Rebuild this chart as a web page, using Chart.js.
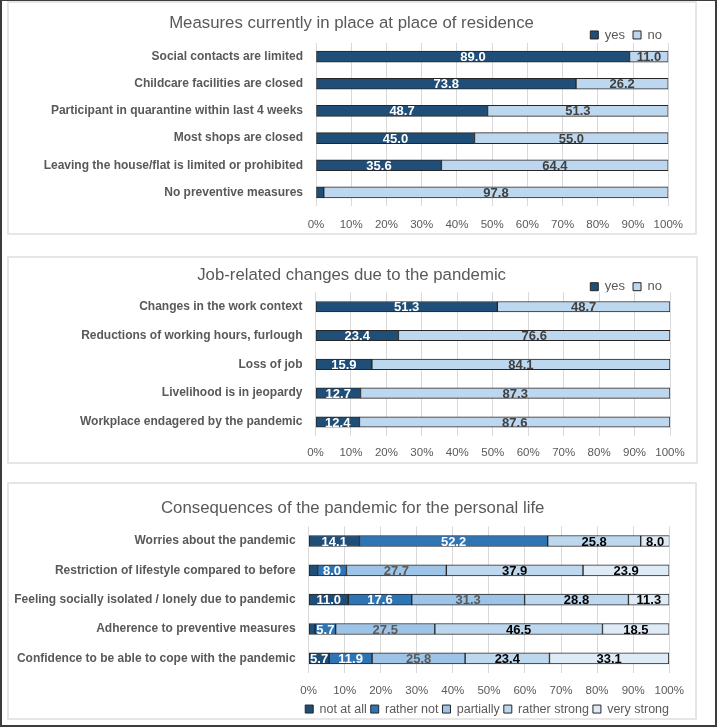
<!DOCTYPE html>
<html>
<head>
<meta charset="utf-8">
<script src="https://cdn.jsdelivr.net/npm/chart.js@4.4.1/dist/chart.umd.min.js"></script>
<style>
  html, body { margin: 0; padding: 0; background: #ffffff; }
  #frame { position: absolute; left: 0; top: 0; width: 717px; height: 727px; box-sizing: border-box;
           border: 2px solid #3c3c3c; border-top-width: 1px; }
  .panel { position: absolute; box-sizing: border-box; border: 2px solid #e6e6e6; background: #fff; }
  .panel canvas { position: absolute; left: 0; top: 0; }
</style>
</head>
<body>
<div id="frame"></div>
<div class="panel" style="left:7px; top:1px; width:690px; height:234px;"><canvas id="c1" width="686" height="230"></canvas></div>
<div class="panel" style="left:7px; top:256px; width:691px; height:208px;"><canvas id="c2" width="687" height="204"></canvas></div>
<div class="panel" style="left:7px; top:482px; width:690px; height:238px;"><canvas id="c3" width="686" height="234"></canvas></div>
<script>
// ---------- data ----------
const measureCategories = [
  "Social contacts are limited",
  "Childcare facilities are closed",
  "Participant in quarantine within last 4 weeks",
  "Most shops are closed",
  "Leaving the house/flat is limited or prohibited",
  "No preventive measures"
];
const measureYes = [89.0, 73.8, 48.7, 45.0, 35.6, 2.2];
const measureNo  = [11.0, 26.2, 51.3, 55.0, 64.4, 97.8];

const jobCategories = [
  "Changes in the work context",
  "Reductions of working hours, furlough",
  "Loss of job",
  "Livelihood is in jeopardy",
  "Workplace endagered by the pandemic"
];
const jobYes = [51.3, 23.4, 15.9, 12.7, 12.4];
const jobNo  = [48.7, 76.6, 84.1, 87.3, 87.6];

const lifeCategories = [
  "Worries about the pandemic",
  "Restriction of lifestyle compared to before",
  "Feeling socially isolated / lonely due to pandemic",
  "Adherence to preventive measures",
  "Confidence to be able to cope with the pandemic"
];
const notAtAll     = [14.1, 2.5, 11.0, 1.8, 5.7];
const ratherNot    = [52.2, 8.0, 17.6, 5.7, 11.9];
const partially    = [0.0, 27.7, 31.3, 27.5, 25.8];
const ratherStrong = [25.8, 37.9, 28.8, 46.5, 23.4];
const veryStrong   = [8.0, 23.9, 11.3, 18.5, 33.1];

const titles = [
  "Measures currently in place at place of residence",
  "Job-related changes due to the pandemic",
  "Consequences of the pandemic for the personal life"
];
const yesNoLabels = ["yes", "no"];
const levelLabels = ["not at all", "rather not", "partially", "rather strong", "very strong"];

// ---------- styles ----------
const FONT = "'Liberation Sans', Arial, sans-serif";
const GREY = '#595959';
const EDGE = '#262626';
const C_DARK = '#1F4E79', C_MID = '#2E75B6', C_PART = '#9DC3E6', C_LIGHT = '#BDD7EE', C_PALE = '#DEEBF7';

const valueLabels = {
  id: 'valueLabels',
  afterDatasetsDraw(chart) {
    const ctx = chart.ctx;
    ctx.save();
    ctx.font = "bold 13px " + FONT;
    ctx.textAlign = 'center';
    ctx.textBaseline = 'middle';
    chart.data.datasets.forEach((ds, di) => {
      const meta = chart.getDatasetMeta(di);
      meta.data.forEach((bar, i) => {
        const v = ds.data[i];
        if (v < 3) return;
        const p = bar.getProps(['x', 'y', 'base'], true);
        ctx.fillStyle = ds.labelColor;
        ctx.fillText(v.toFixed(1), (p.x + p.base) / 2, p.y + 1);
      });
    });
    ctx.restore();
  }
};

function ds(label, data, color, labelColor, thick) {
  return { label, data, backgroundColor: color, borderColor: EDGE, borderWidth: 1,
           borderSkipped: false, barThickness: thick, labelColor };
}

function makeChart(id, cfg) {
  const scales = {
    x: { stacked: true, min: 0, max: 100,
         ticks: { stepSize: 10, callback: v => v + '%', color: GREY, padding: cfg.xPad,
                  maxRotation: 0, minRotation: 0, autoSkip: false,
                  font: { family: FONT, size: 11.5 } },
         grid: { color: '#d9d9d9', drawTicks: false },
         border: { display: false },
         afterFit: s => { s.height = cfg.xH; } },
    y: { stacked: true,
         ticks: { color: GREY, padding: 13, autoSkip: false,
                  font: { family: FONT, size: 12, weight: 'bold' } },
         grid: { display: false, drawTicks: false },
         border: { display: false },
         afterFit: s => { s.width = cfg.yW; } }
  };
  if (cfg.rightW) {
    scales.yR = { type: 'category', position: 'right', display: true,
                  ticks: { display: false }, grid: { display: false, drawTicks: false },
                  border: { display: false },
                  afterFit: s => { s.width = cfg.rightW; } };
  }
  const legendPlace = {
    id: 'legendPlace',
    afterLayout(chart) {
      if (cfg.legendRight === undefined) return;
      const L = chart.legend;
      const dx = cfg.legendRight - L.right;
      L.left += dx; L.right += dx;
    }
  };
  new Chart(document.getElementById(id), {
    type: 'bar',
    data: { labels: cfg.labels, datasets: cfg.datasets },
    plugins: [valueLabels, legendPlace],
    options: {
      indexAxis: 'y',
      responsive: false,
      animation: false,
      layout: { padding: { left: cfg.padL, right: cfg.padR, top: 0, bottom: 0 } },
      plugins: {
        title: { display: true, text: cfg.title, color: GREY,
                 font: { family: FONT, size: 16.8, weight: 'normal' },
                 padding: { top: cfg.titleTop, bottom: cfg.titleBottom } },
        legend: { display: true, position: cfg.legendPos, align: 'end', maxHeight: cfg.legendMaxH,
                  labels: { boxWidth: 8, boxHeight: 8, padding: cfg.legendPad, color: GREY,
                            font: { family: FONT, size: cfg.legendFont } } },
        tooltip: { enabled: false }
      },
      scales
    }
  });
}

makeChart('c1', {
  labels: measureCategories, title: titles[0],
  datasets: [ds(yesNoLabels[0], measureYes, C_DARK, '#ffffff', 11),
             ds(yesNoLabels[1], measureNo, C_LIGHT, '#404040', 11)],
  padL: 24, padR: 25, titleTop: 10.2, titleBottom: -12.9,
  legendPos: 'top', legendMaxH: 22.5, legendPad: 8, legendFont: 13,
  xPad: 12, xH: 27, yW: 283
});

makeChart('c2', {
  labels: jobCategories, title: titles[1],
  datasets: [ds(yesNoLabels[0], jobYes, C_DARK, '#ffffff', 10.5),
             ds(yesNoLabels[1], jobNo, C_LIGHT, '#404040', 10.5)],
  padL: 24.2, padR: 26, titleTop: 6.9, titleBottom: -12.86,
  legendPos: 'top', legendMaxH: 20.1, legendPad: 8, legendFont: 13,
  xPad: 9.7, xH: 25.6, yW: 282.3
});

makeChart('c3', {
  labels: lifeCategories, title: titles[2],
  datasets: [ds(levelLabels[0], notAtAll, C_DARK, '#ffffff', 11),
             ds(levelLabels[1], ratherNot, C_MID, '#ffffff', 11),
             ds(levelLabels[2], partially, C_PART, '#595959', 11),
             ds(levelLabels[3], ratherStrong, C_LIGHT, '#000000', 11),
             ds(levelLabels[4], veryStrong, C_PALE, '#000000', 11)],
  padL: 2, padR: 0.6, rightW: 23.4, titleTop: 14.2, titleBottom: 8,
  legendPos: 'bottom', legendMaxH: 19.2, legendPad: 4, legendFont: 12.5, legendRight: 664,
  xPad: 11.1, xH: 25.8, yW: 297.6
});
</script>
</body>
</html>
